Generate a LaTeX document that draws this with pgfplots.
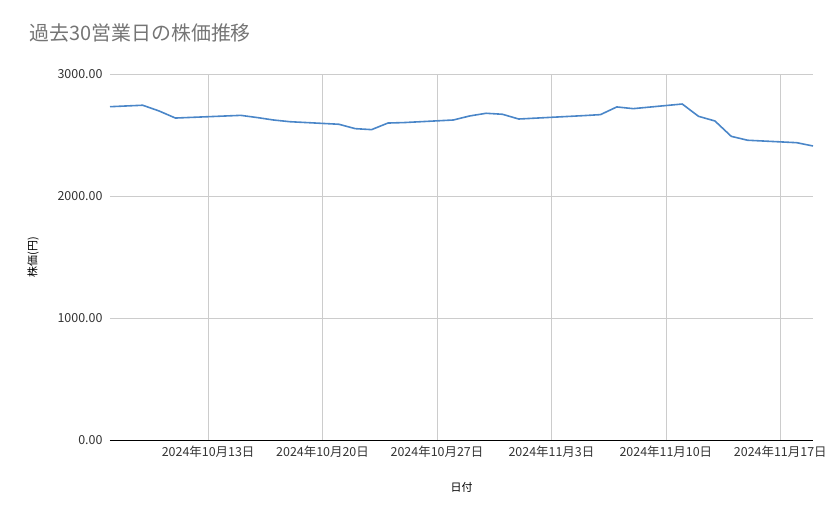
\documentclass[border=0pt]{standalone}
\usepackage{fontspec}
\setmainfont{Noto Sans CJK JP}
\usepackage{pgfplots}
\pgfplotsset{compat=1.18}

\definecolor{lineblue}{RGB}{74,134,200}
\definecolor{gridgray}{RGB}{204,204,204}
\definecolor{titlegray}{RGB}{117,117,117}
\definecolor{ticktext}{RGB}{51,51,51}

% day 0 = 2024-10-13
\pgfplotstableread{
day price
-6 2732
-5 2738
-4 2744
-3 2697
-2 2639
2 2661
3 2643
4 2623
5 2609
8 2588
9 2552
10 2544
11 2598
12 2602
15 2623
16 2656
17 2678
18 2670
19 2631
23 2659
24 2667
25 2730
26 2716
29 2754
30 2653
31 2615
32 2489
33 2457
36 2437
37 2410
}\pricedata

\begin{document}
\begin{tikzpicture}
\path[use as bounding box] (-110bp,-79bp) rectangle (729bp,440bp);
\begin{axis}[
    at={(0,0)}, anchor=south west,
    scale only axis,
    width=703bp, height=366bp,
    xmin=-6, xmax=37,
    ymin=0, ymax=3000,
    axis x line*=bottom,
    axis y line*=left,
    x axis line style={black, line width=0.8pt, -},
    y axis line style={draw=none},
    xtick={0,7,14,21,28,35},
    xticklabels={2024年10月13日,2024年10月20日,2024年10月27日,2024年11月3日,2024年11月10日,2024年11月17日},
    ytick={0,1000,2000,3000},
    y tick label style={/pgf/number format/fixed, /pgf/number format/fixed zerofill,
        /pgf/number format/precision=2, /pgf/number format/1000 sep={}, xshift=-4bp},
    /pgf/number format/assume math mode=true,
    major tick length=0pt,
    grid=major,
    grid style={gridgray, line width=0.6pt},
    ticklabel style={font=\fontsize{12.5}{14}\selectfont, text=ticktext},
    x tick label style={yshift=-2bp},
    clip=false,
    title={過去30営業日の株価推移},
    title style={at={(rel axis cs:0,1)}, anchor=base west, xshift=-84bp, yshift=28bp,
        font=\fontsize{20}{23}\selectfont, text=titlegray},
    xlabel={日付},
    xlabel style={at={(rel axis cs:0.5,0)}, anchor=center, yshift=-47bp,
        font=\fontsize{11}{13}\selectfont, text=black},
    ylabel={株価(円)},
    ylabel style={at={(rel axis cs:0,0.5)}, anchor=center, yshift=77bp,
        font=\fontsize{11}{13}\selectfont, text=black},
]
\addplot[lineblue, line width=1.6pt, no markers, line join=round] table[x=day, y=price] {\pricedata};
\end{axis}
\end{tikzpicture}
\end{document}
